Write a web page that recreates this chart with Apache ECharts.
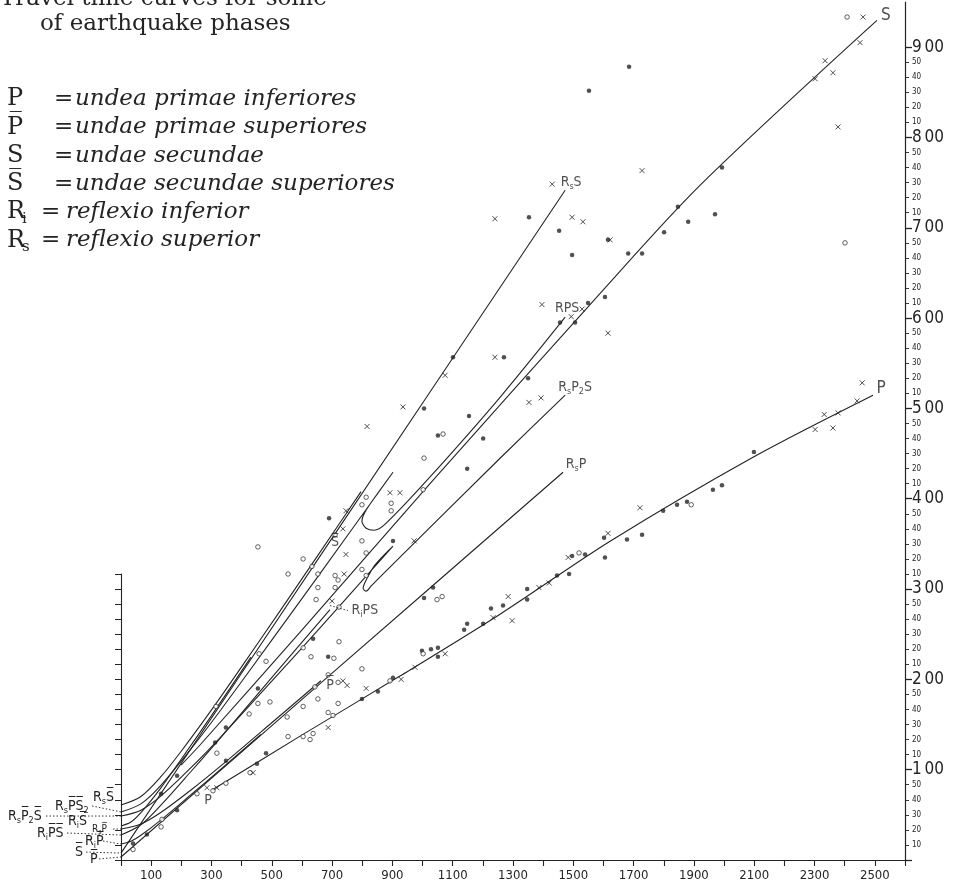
<!DOCTYPE html>
<html>
<head>
<meta charset="utf-8">
<title>Travel time curves for some of earthquake phases</title>
<script src="https://cdn.jsdelivr.net/npm/echarts@6.0.0/dist/echarts.min.js"></script>
<style>
html,body{margin:0;padding:0;background:#ffffff;}
#chart{width:953px;height:890px;}
</style>
</head>
<body>
<div id="chart"></div>
<script>
// ---------------- DATA (distance in km, travel time in seconds) ----------------
const xTickLabels = [100,300,500,700,900,1100,1300,1500,1700,1900,2100,2300,2500];
const yMinuteLabels = ['1 00','2 00','3 00','4 00','5 00','6 00','7 00','8 00','9 00'];
const ySecondLabels = ['10','20','30','40','50'];

const curveP = [[302,46.5],[594,82.3],[925,122.2],[1257,163.3],[1622,211.8],[2096,267.6],[2494,308.8]];
const curvePbarRsP = [[0,2.0],[703,124.6],[1466,257.6]];
const curveSbarRsS = [[0,4.6],[703,214.7],[1473,444.9]];
const curveRiPbar = [[0,10.6],[33,12.4],[66,16.4],[133,26.7],[232,43.4],[332,60.5],[464,83.4]];
const curveRsPbar = [[0,20.6],[66,23.9],[133,31.7],[232,46.5],[332,62.7],[497,90.7],[663,119.1]];
const curveRiSbar = [[0,22.6],[33,25.2],[66,31.4],[133,48.1],[199,66.8],[299,95.6],[431,134.8]];
const curveRsSbar = [[0,36.5],[66,42.2],[133,55.5],[199,72.1],[299,99.4],[398,127.8],[531,166.5],[663,205.4],[796,244.7]];
const curveRiPbarSbar = [[0,16.6],[66,23.4],[133,36.6],[232,58.8],[332,81.7],[497,120.5],[693,166.4]];
const curveRsPbar2Sbar = [[0,29.2],[66,33.1],[133,42.6],[232,61.3],[332,82.0],[497,118.1],[663,154.9],[902,208.5],
  [842,195.9],[813,185.9],[803,180.6],[813,178.6],[829,181.9],[892,194.6],[1257,266.9],[1473,308.8]];
const curveRsPbarSbar2 = [[0,31.9],[66,37.3],[133,49.8],[232,73.8],[332,100.0],[497,145.2],[663,191.1],[902,257.6],
  [842,241.0],[809,231.1],[799,225.1],[813,220.4],[839,219.1],[876,223.1],[1015,252.3],[1257,307.4],[1473,360.6]];
const curveS = [[199,63.0],[262,76.4],[594,151.4],[1035,252.3],[1589,376.5],[1920,448.2],[2507,557.8]];

const obsFilled = [[1685,527],[1993,460],[1847,434],[1881,424],[1970,429],[1801,417],[1615,412],[1682,403],[1728,403],
  [1552,511],[1353,427],[1453,418],[1496,402],[1101,334],[1005,300],[1456,357],[1506,357],[1549,370],[1605,374],
  [1270,334],[1350,320],[1154,295],[1051,282],[1201,280],[1148,260],[2099,271],[1963,246],[1993,249],[1798,232],
  [1844,236],[1877,238],[1602,214],[1678,213],[1728,216],[1605,201],[1496,202],[1539,203],[1446,189],[1486,190],
  [1347,180],[1347,173],[1267,169],[1227,167],[1148,157],[1201,157],[1138,153],[998,139],[1028,140],[1051,141],
  [1051,135],[902,121],[852,112],[799,107],[690,227],[902,212],[1005,174],[1035,181],[687,135],[637,147],[454,114],
  [481,71],[348,66],[348,88],[312,78],[451,64],[186,56],[186,33],[133,44],[86,17],[40,11]];
const obsOpen = [[2408,560],[2401,410],[1068,283],[1005,267],[1891,236],[1519,204],[1002,246],[813,241],[799,236],
  [896,237],[896,232],[710,216],[799,212],[813,204],[604,200],[633,195],[554,190],[653,190],[710,189],[720,186],
  [799,193],[813,189],[653,181],[710,181],[647,173],[723,168],[1048,173],[1065,175],[723,145],[630,135],[706,134],
  [799,127],[604,141],[458,137],[481,132],[687,123],[720,118],[643,115],[653,107],[720,104],[687,98],[703,96],
  [604,102],[494,105],[425,97],[551,95],[315,102],[554,82],[604,82],[637,84],[627,80],[892,119],[1002,137],
  [305,46],[348,51],[428,58],[318,71],[252,44],[136,27],[133,22],[40,7],[454,208],[454,104]];
const obsCross = [[2461,560],[2451,543],[2335,531],[2302,519],[2361,523],[2378,487],[1728,458],[1622,412],[1430,449],
  [1240,426],[1496,427],[1532,424],[1075,322],[935,301],[816,288],[1396,369],[1529,366],[1493,361],[1240,334],
  [1353,304],[1393,307],[1615,350],[1721,234],[1615,217],[2458,317],[2441,305],[2332,296],[2378,297],[2302,286],
  [2361,287],[1483,201],[1386,181],[1420,184],[1284,175],[1234,161],[1297,159],[892,244],[925,244],[746,232],
  [736,220],[746,203],[740,190],[972,212],[700,172],[736,119],[750,116],[687,88],[1075,137],[975,128],[929,120],
  [813,114],[285,48],[438,58],[318,48]];

// ---------------- STYLE ----------------
const INK = '#242424';
const SANS = "'DejaVu Sans Condensed','Liberation Sans Narrow','Roboto Condensed','DejaVu Sans',sans-serif";
const SERIF = "'DejaVu Serif','Liberation Serif',serif";
const OL = '\u0305';
const Pb = 'P' + OL, Sb = 'S' + OL;

const H = 890, GRID_BOTTOM = 30, GRID_TOP = 2, YMAX = 570;
const pxPerSec = (H - GRID_BOTTOM - GRID_TOP) / YMAX;

const richSans = {
  m: {fontFamily: SANS, fontSize: 14, color: INK, lineHeight: 18},
  s: {fontFamily: SANS, fontSize: 9, color: INK, lineHeight: 8, verticalAlign: 'bottom'},
  n: {fontFamily: SANS, fontSize: 10, color: INK, lineHeight: 14},
  t: {fontFamily: SANS, fontSize: 7, color: INK, lineHeight: 6, verticalAlign: 'bottom'},
  L: {fontFamily: SANS, fontSize: 17, color: INK, lineHeight: 20}
};

function lineSeries(name, data) {
  return {
    name, type: 'line', data, xAxisIndex: 0, yAxisIndex: 0,
    showSymbol: false, symbol: 'none', smooth: 0.3, silent: true,
    lineStyle: {color: INK, width: 1.1}, z: 3
  };
}
const last = a => a[a.length - 1];

function lbl(point, text, dx, dy) {
  return {value: point, label: {show: true, formatter: text, position: [dx, dy], align: 'center', verticalAlign: 'middle', rich: richSans}};
}

const phaseLabels = [
  lbl(last(curveS), '{L|S}', 9, -5),
  lbl(last(curveP), '{L|P}', 8, -7),
  lbl(last(curveSbarRsS), '{m|R}{s|s}{m|S}', 6, -8),
  lbl(last(curveRsPbarSbar2), '{m|RPS}', 2, -9),
  lbl(last(curveRsPbar2Sbar), '{m|R}{s|s}{m|P}{s|2}{m|S}', 10, -8),
  lbl(last(curvePbarRsP), '{m|R}{s|s}{m|P}', 13, -8),
  lbl(curveSbarRsS[1], '{m|' + Sb + '}', 2, 6),
  lbl(curvePbarRsP[1], '{m|' + Pb + '}', -3, 13),
  lbl(last(curveRiPbarSbar), '{m|R}{s|i}{m|PS}', 35, 1),
  lbl(curveP[0], '{m|P}', -4, 10)
];

const gridRightTicks = {left: 121, right: 48, top: H - GRID_BOTTOM - 540 * pxPerSec, bottom: GRID_BOTTOM};

const option = {
  backgroundColor: '#ffffff',
  animation: false,
  grid: [
    {left: 121, right: 48, top: GRID_TOP, bottom: GRID_BOTTOM},
    Object.assign({}, gridRightTicks),
    {left: 121, right: 48, top: H - GRID_BOTTOM - 190 * pxPerSec, bottom: GRID_BOTTOM},
    Object.assign({}, gridRightTicks)
  ],
  xAxis: [
    {gridIndex: 0, type: 'value', min: 0, max: 2600, interval: 100,
      axisLine: {show: true, onZero: false, lineStyle: {color: INK, width: 1.2}},
      axisTick: {show: true, length: 6, lineStyle: {color: INK, width: 1.1}},
      axisLabel: {margin: 9, color: INK, fontFamily: SANS, fontSize: 13,
        formatter: v => xTickLabels.indexOf(v) >= 0 ? String(v) : ''},
      splitLine: {show: false}},
    {gridIndex: 1, type: 'value', min: 0, max: 2600, show: false, axisLine: {onZero: false}},
    {gridIndex: 2, type: 'value', min: 0, max: 2600, show: false, axisLine: {onZero: false}},
    {gridIndex: 3, type: 'value', min: 0, max: 2600, show: false, axisLine: {onZero: false}}
  ],
  yAxis: [
    {gridIndex: 0, type: 'value', min: 0, max: YMAX, position: 'right',
      axisLine: {show: true, onZero: false, lineStyle: {color: INK, width: 1.2}},
      axisTick: {show: false}, axisLabel: {show: false}, splitLine: {show: false}},
    {gridIndex: 1, type: 'value', min: 0, max: 540, interval: 10, position: 'right',
      axisLine: {show: false, onZero: false}, splitLine: {show: false},
      axisTick: {show: true, length: 4, lineStyle: {color: INK, width: 0.9}},
      axisLabel: {show: true, margin: 7,
        formatter: v => {
          if (v === 0) return '';
          if (v % 60 === 0) {
            const parts = yMinuteLabels[v / 60 - 1].split(' ');
            return '{big|' + parts[0] + '}{gap| }{big|' + parts[1] + '}';
          }
          return '{sm|' + ySecondLabels[(v % 60) / 10 - 1] + '}';
        },
        rich: {
          big: {fontFamily: SANS, fontSize: 17, color: INK},
          gap: {fontFamily: SANS, fontSize: 10, color: INK},
          sm: {fontFamily: SANS, fontSize: 8, color: INK}
        }}},
    {gridIndex: 2, type: 'value', min: 0, max: 190, interval: 10, position: 'left',
      axisLine: {show: true, onZero: false, lineStyle: {color: INK, width: 1.1}},
      axisTick: {show: true, length: 6, lineStyle: {color: INK, width: 1}},
      axisLabel: {show: false}, splitLine: {show: false}},
    {gridIndex: 3, type: 'value', min: 0, max: 540, interval: 60, position: 'right',
      axisLine: {show: false, onZero: false}, splitLine: {show: false}, axisLabel: {show: false},
      axisTick: {show: true, length: 7, lineStyle: {color: INK, width: 1.3}}}
  ],
  series: [
    lineSeries('P', curveP),
    lineSeries('P̄ / RsP', curvePbarRsP),
    lineSeries('S̄ / RsS', curveSbarRsS),
    lineSeries('RiP̄', curveRiPbar),
    lineSeries('RsP̄', curveRsPbar),
    lineSeries('RiS̄', curveRiSbar),
    lineSeries('RsS̄', curveRsSbar),
    lineSeries('RiP̄S̄', curveRiPbarSbar),
    lineSeries('RsP̄2S̄', curveRsPbar2Sbar),
    lineSeries('RsP̄S̄2', curveRsPbarSbar2),
    lineSeries('S', curveS),
    {name: 'filled', type: 'scatter', data: obsFilled, symbol: 'circle', symbolSize: 4.5,
      itemStyle: {color: INK}, silent: true, z: 4},
    {name: 'open', type: 'scatter', data: obsOpen, symbol: 'circle', symbolSize: 4.5,
      itemStyle: {color: '#ffffff', borderColor: INK, borderWidth: 0.9}, silent: true, z: 4},
    {name: 'cross', type: 'scatter', data: obsCross, symbol: 'path://M0 0L10 10M10 0L0 10', symbolSize: 5,
      itemStyle: {color: 'none', borderColor: INK, borderWidth: 1}, silent: true, z: 4},
    {name: 'phase labels', type: 'scatter', data: phaseLabels, symbol: 'circle', symbolSize: 0.1,
      itemStyle: {color: 'rgba(0,0,0,0)'}, silent: true, z: 5}
  ]
};

const chart = echarts.init(document.getElementById('chart'), null, {renderer: 'canvas'});
chart.setOption(option);

// ---------- annotations: intercept labels at the left, legend text ----------
const interceptLabels = [
  {c: curveRsSbar, t: '{m|R}{s|s}{m|' + Sb + '}', x: 93, dy: -8, lead: null},
  {c: curveRsPbarSbar2, t: '{m|R}{s|s}{m|' + Pb + Sb + '}{s|2}', x: 55, dy: -6, lead: 92},
  {c: curveRsPbar2Sbar, t: '{m|R}{s|s}{m|' + Pb + '}{s|2}{m|' + Sb + '}', x: 8, dy: 0, lead: 46},
  {c: curveRiSbar, t: '{m|R}{s|i}{m|' + Sb + '}', x: 68, dy: -5, lead: null},
  {c: curveRsPbar, t: '{n|R}{t|s}{n|' + Pb + '}', x: 92, dy: 0, lead: 113},
  {c: curveRiPbarSbar, t: '{m|R}{s|i}{m|' + Pb + Sb + '}', x: 37, dy: -2, lead: 67},
  {c: curveRiPbar, t: '{m|R}{s|i}{m|' + Pb + '}', x: 85, dy: -3, lead: 103},
  {c: curveSbarRsS, t: '{m|' + Sb + '}', x: 75, dy: -1, lead: 86},
  {c: curvePbarRsP, t: '{m|' + Pb + '}', x: 90, dy: 2, lead: 99}
];

const legendRows = [
  {sym: 'P', sub: '', def: 'undea primae inferiores'},
  {sym: Pb, sub: '', def: 'undae primae superiores'},
  {sym: 'S', sub: '', def: 'undae secundae'},
  {sym: Sb, sub: '', def: 'undae secundae superiores'},
  {sym: 'R', sub: 'i', def: 'reflexio inferior'},
  {sym: 'R', sub: 's', def: 'reflexio superior'}
];

function txt(x, y, text, font, extra) {
  return Object.assign({type: 'text', x, y, silent: true, z: 10,
    style: Object.assign({text, font, fill: INK, align: 'left', verticalAlign: 'middle',
      textAlign: 'left', textVerticalAlign: 'middle'}, extra || {})});
}

const g = [];
g.push(txt(0, -1, 'Travel time curves for some', '23px ' + SERIF));
g.push(txt(40, 24, 'of earthquake phases', '23px ' + SERIF));
const rowY0 = 99, rowStep = 28.3;
legendRows.forEach((r, i) => {
  const y = rowY0 + i * rowStep;
  g.push(txt(7, y, r.sym, '24px ' + SERIF));
  if (r.sub) {
    g.push(txt(22, y + 7, r.sub, '15px ' + SERIF));
    g.push(txt(41, y, '=', '23px ' + SERIF));
    g.push(txt(66, y, r.def, 'italic 23px ' + SERIF));
  } else {
    g.push(txt(54, y, '=', '23px ' + SERIF));
    g.push(txt(75, y, r.def, 'italic 23px ' + SERIF));
  }
});

interceptLabels.forEach(L => {
  const p = chart.convertToPixel({xAxisIndex: 0, yAxisIndex: 0}, L.c[0]);
  const ly = p[1] + L.dy;
  g.push({type: 'text', x: L.x, y: ly, silent: true, z: 10,
    style: {text: L.t, rich: richSans, fill: INK, align: 'left', verticalAlign: 'middle'}});
  if (L.lead !== null) {
    g.push({type: 'line', silent: true, z: 9,
      shape: {x1: L.lead, y1: ly, x2: p[0], y2: p[1]},
      style: {stroke: INK, lineWidth: 0.9, lineDash: [1.5, 2]}});
  }
});

// dotted leader from the end of RiP̄S̄ to its label
const ripsEnd = chart.convertToPixel({xAxisIndex: 0, yAxisIndex: 0}, last(curveRiPbarSbar));
g.push({type: 'line', silent: true, z: 9,
  shape: {x1: ripsEnd[0], y1: ripsEnd[1] - 4, x2: ripsEnd[0] + 18, y2: ripsEnd[1] + 1},
  style: {stroke: INK, lineWidth: 0.9, lineDash: [1.5, 2]}});

chart.setOption({graphic: {elements: g}});
</script>
</body>
</html>
